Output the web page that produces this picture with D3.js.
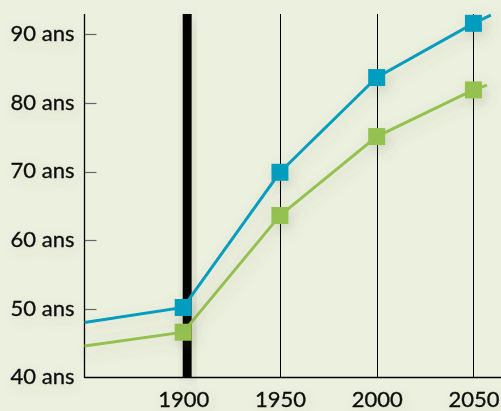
<!DOCTYPE html>
<html>
<head>
<meta charset="utf-8">
<script src="https://cdn.jsdelivr.net/npm/d3@7"></script>
<style>
  html, body { margin: 0; padding: 0; background: #ecf0df; }
  svg { display: block; }
  text { font-family: Lato, "Open Sans", sans-serif; fill: #111; }
</style>
</head>
<body>
<div id="chart"></div>
<script>
// Espérance de vie, deux séries
const yearsBlue  = [1849, 1900, 1950, 2000, 2050, 2059];
const valuesBlue = [48.0, 50.2, 69.9, 83.7, 91.6, 92.8];
const yearsGreen  = [1849, 1900, 1950, 2000, 2050, 2057];
const valuesGreen = [44.6, 46.6, 63.6, 75.1, 81.9, 82.6];
// Only the measured years carry a square marker
const markerYears = [1900, 1950, 2000, 2050];
const xTicks = [1900, 1950, 2000, 2050];
const yTicks = [40, 50, 60, 70, 80, 90];
const yTickLabels = ["40 ans", "50 ans", "60 ans", "70 ans", "80 ans", "90 ans"];
const highlightYear = 1900;

const W = 501, H = 411;
const plotLeft = 84.5, plotBottom = 377.5, plotTop = 14;

const x = d3.scaleLinear().domain([1849, 2065.6]).range([plotLeft, plotLeft + 216.6 * 1.935]);
const y = d3.scaleLinear().domain([40, 90]).range([plotBottom, plotBottom - 5 * 68.64]);

const svg = d3.select("#chart").append("svg").attr("width", W).attr("height", H);

const defs = svg.append("defs");
const shadow = defs.append("filter").attr("id", "shadow")
  .attr("x", "-50%").attr("y", "-50%").attr("width", "200%").attr("height", "200%");
shadow.append("feDropShadow").attr("dx", 3).attr("dy", 5).attr("stdDeviation", 7)
  .attr("flood-color", "#5c5a40").attr("flood-opacity", 0.22);
const textGlow = defs.append("filter").attr("id", "textGlow")
  .attr("x", "-30%").attr("y", "-60%").attr("width", "160%").attr("height", "220%");
textGlow.append("feDropShadow").attr("dx", 2).attr("dy", 4).attr("stdDeviation", 6)
  .attr("flood-color", "#5c5a40").attr("flood-opacity", 0.15);

svg.append("rect").attr("width", W).attr("height", H).attr("fill", "#ecf0df");

// Vertical year gridlines
svg.append("g").selectAll("line")
  .data(xTicks.filter(d => d !== highlightYear))
  .join("line")
  .attr("x1", d => Math.round(x(d)) + 0.5).attr("x2", d => Math.round(x(d)) + 0.5)
  .attr("y1", plotTop).attr("y2", plotBottom)
  .attr("stroke", "#000").attr("stroke-width", 1);

// Thick bar marking 1900
svg.append("rect")
  .attr("x", x(highlightYear) - 0.5).attr("width", 9)
  .attr("y", plotTop).attr("height", plotBottom - plotTop)
  .attr("fill", "#000").attr("filter", "url(#shadow)");

// Axes
const yAxis = d3.axisLeft(y).tickValues(yTicks).tickSize(0)
  .tickFormat((d, i) => yTickLabels[i]).tickPadding(10);
const gy = svg.append("g").attr("transform", `translate(${plotLeft},0)`).call(yAxis);
gy.select(".domain").remove();
gy.selectAll("text").attr("font-size", 22).attr("dy", "0.28em")
  .style("font-family", "Lato, sans-serif").attr("fill", "#111")
  .attr("stroke", "#111").attr("stroke-width", 0.35)
  .attr("filter", "url(#textGlow)");

// Short tick marks pointing into the plot
svg.append("g").selectAll("line")
  .data(yTicks.filter(d => d !== 40))
  .join("line")
  .attr("x1", plotLeft).attr("x2", plotLeft + 12)
  .attr("y1", d => Math.round(y(d)) + 0.5).attr("y2", d => Math.round(y(d)) + 0.5)
  .attr("stroke", "#666").attr("stroke-width", 1.2);

svg.append("line").attr("x1", plotLeft).attr("x2", plotLeft).attr("y1", plotTop).attr("y2", plotBottom + 0.5)
  .attr("stroke", "#000").attr("stroke-width", 1.3);
svg.append("line").attr("x1", plotLeft).attr("x2", W).attr("y1", plotBottom).attr("y2", plotBottom)
  .attr("stroke", "#000").attr("stroke-width", 1.3);

const xAxis = d3.axisBottom(x).tickValues(xTicks).tickSize(0).tickFormat(d3.format("d")).tickPadding(0);
const gx = svg.append("g").attr("transform", `translate(0,${plotBottom})`).call(xAxis);
gx.select(".domain").remove();
gx.selectAll("text").attr("font-size", 22).attr("dy", null).attr("y", 29.5)
  .style("font-family", "Lato, sans-serif").attr("fill", "#111")
  .attr("stroke", "#111").attr("stroke-width", 0.35)
  .attr("filter", "url(#textGlow)");

// Series
const series = [
  { years: yearsGreen, values: valuesGreen, color: "#95c151" },
  { years: yearsBlue, values: valuesBlue, color: "#009dbe" }
];
const line = d3.line().x(d => x(d[0])).y(d => y(d[1]));
const size = 17;
series.forEach(s => {
  const pts = s.years.map((yr, i) => [yr, s.values[i]]);
  const g = svg.append("g").attr("filter", "url(#shadow)");
  g.append("path").datum(pts).attr("d", line)
    .attr("fill", "none").attr("stroke", s.color).attr("stroke-width", 3);
  g.selectAll("rect").data(pts.filter(p => markerYears.includes(p[0])))
    .join("rect")
    .attr("x", d => x(d[0]) - size / 2).attr("y", d => y(d[1]) - size / 2)
    .attr("width", size).attr("height", size).attr("fill", s.color);
});
</script>
</body>
</html>
